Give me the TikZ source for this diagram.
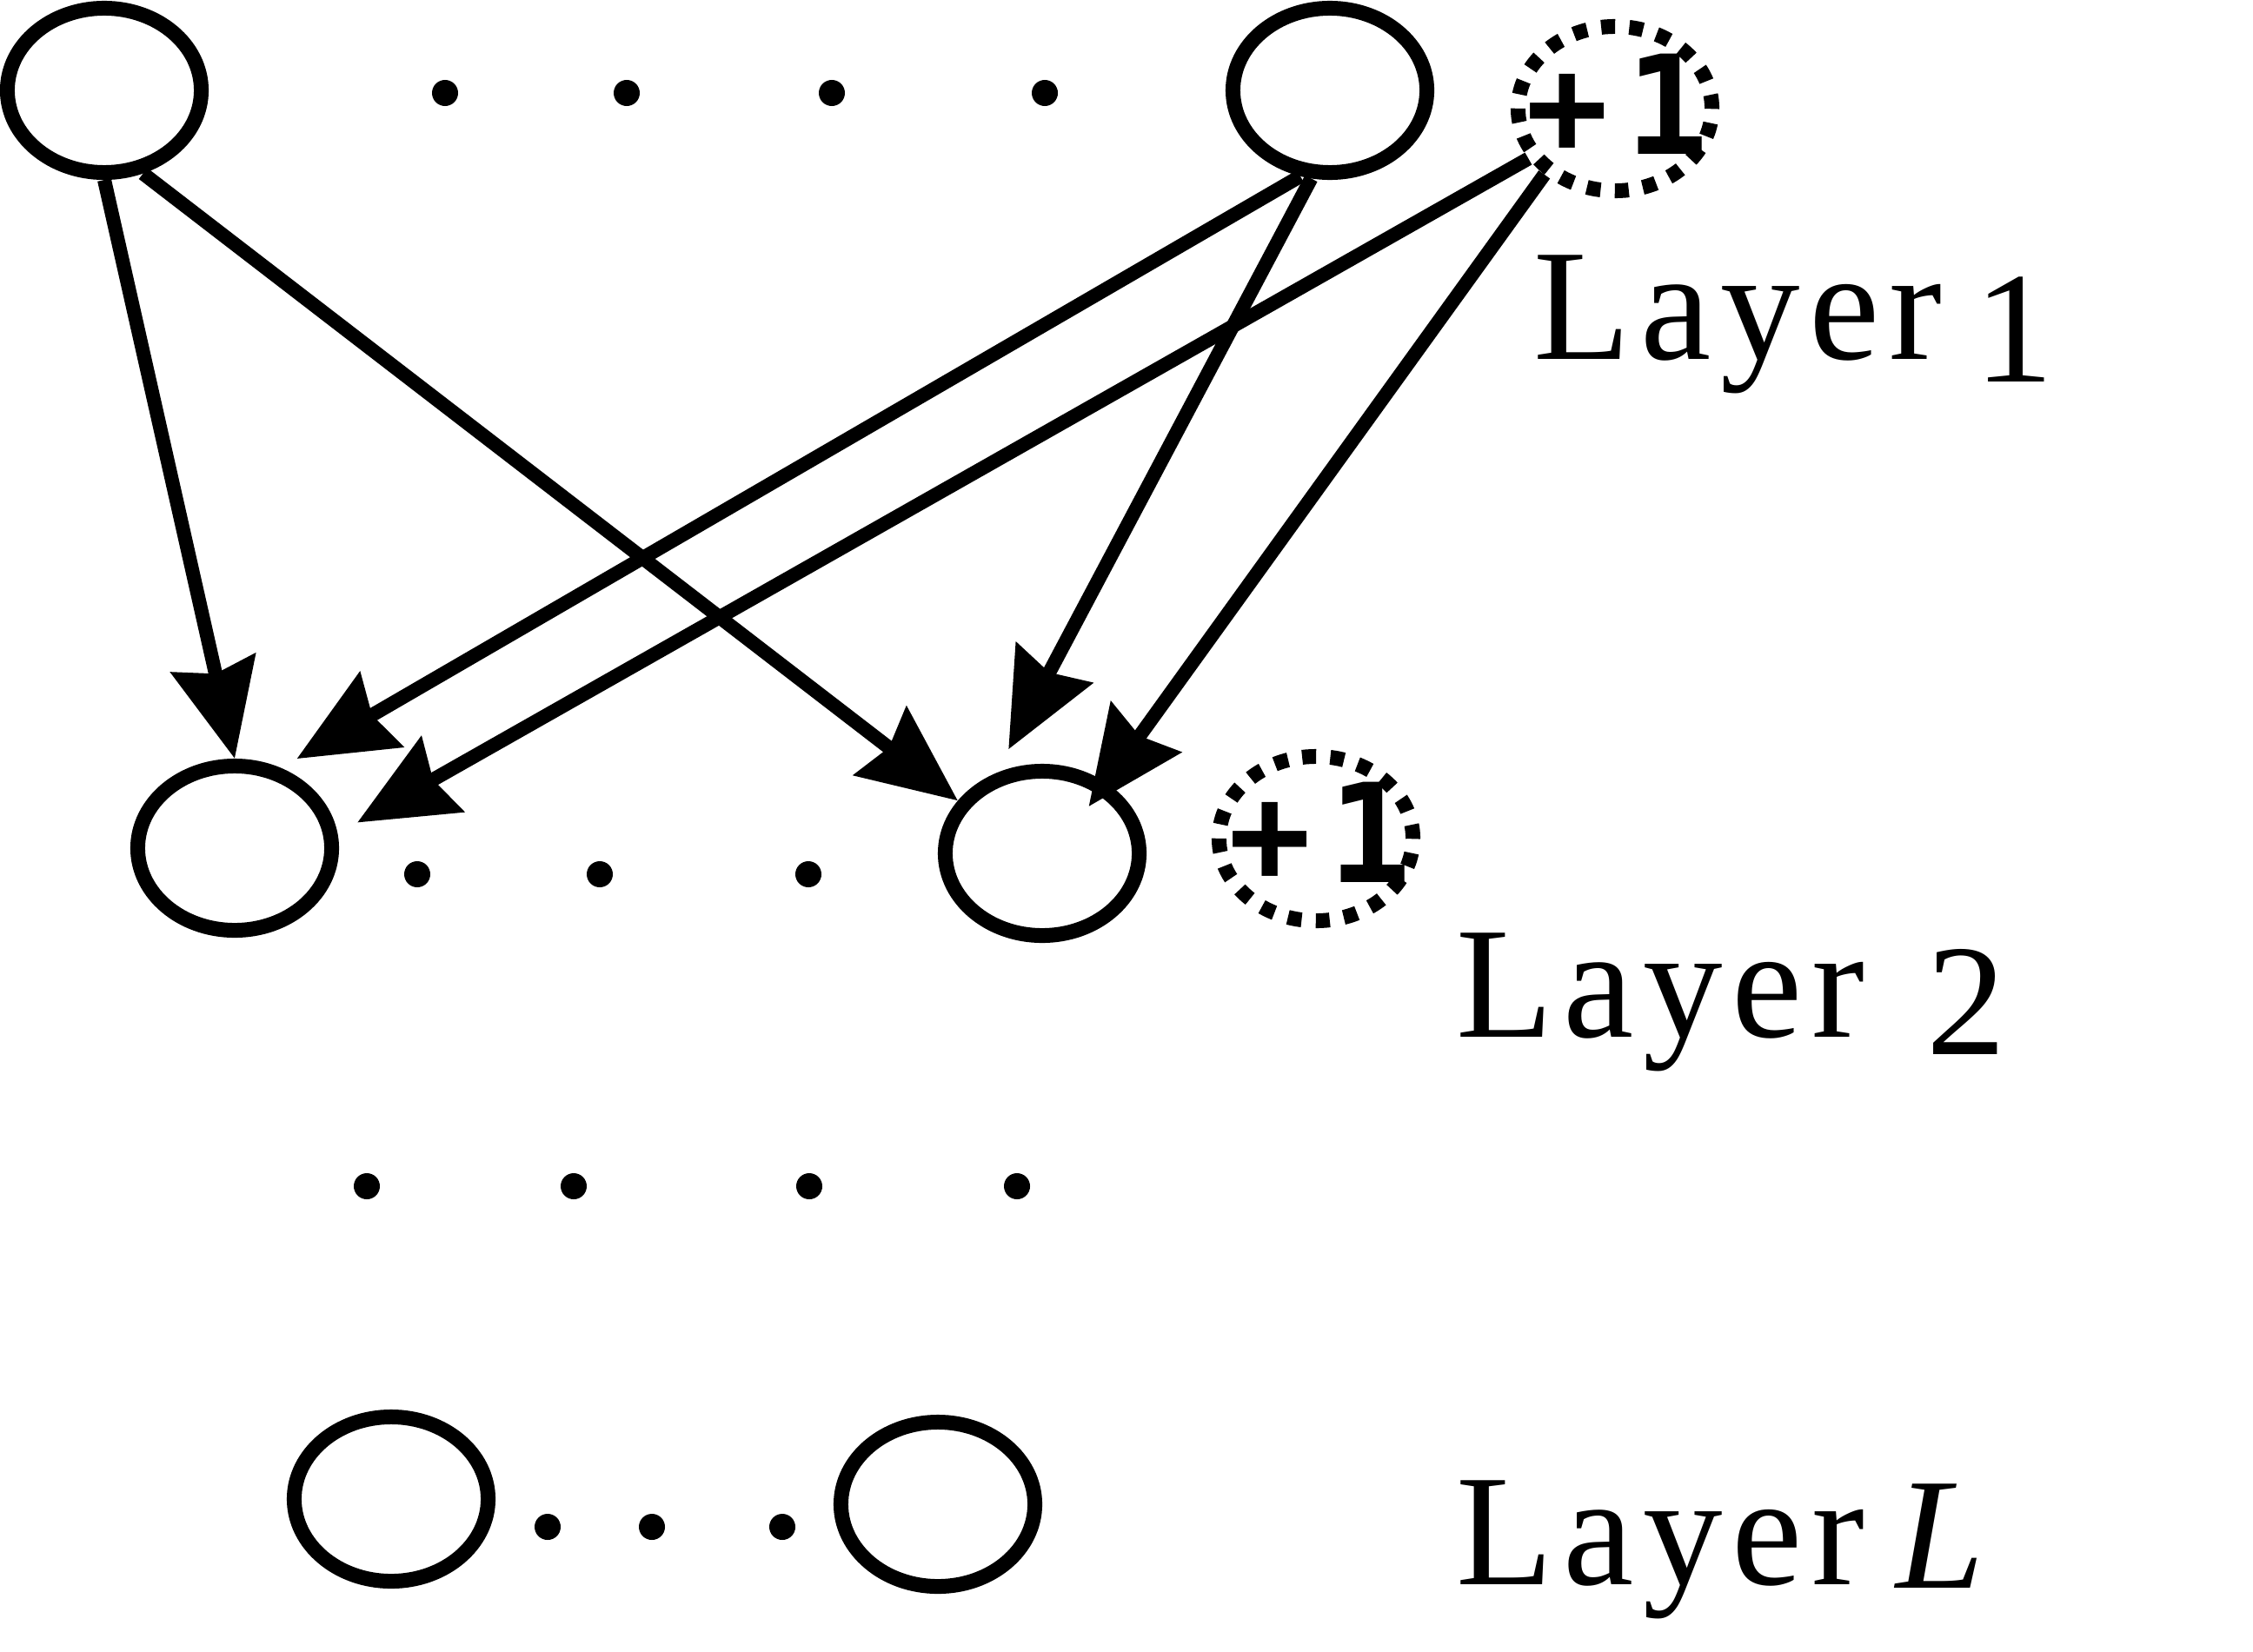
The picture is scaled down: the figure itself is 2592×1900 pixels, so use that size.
\documentclass[tikz,border=0pt]{standalone}
\usepackage{fontspec}
\setmainfont{Liberation Serif}
\newfontfamily\layerfont[LetterSpace=6]{Liberation Serif}
\newfontfamily\biasfont{DejaVu Sans Mono}
\usetikzlibrary{shapes.geometric,arrows.meta}
\newcommand{\plusone}{+\kern0.2cm 1}
\begin{document}
\begin{tikzpicture}[x=0.01cm,y=-0.01cm,
  unit/.style={ellipse, draw, line width=0.17cm, minimum width=2.23cm, minimum height=1.89cm, inner sep=0pt},
  bias/.style={unit, dash pattern=on 0.16cm off 0.164cm},
  biastext/.style={anchor=base, inner sep=0pt, font=\biasfont\bfseries\fontsize{45}{45}\selectfont},
  conn/.style={line width=0.16cm, -{Stealth[length=1.12cm,width=0.98cm,inset=0.12cm]}},
  lay/.style={anchor=base west, inner sep=0pt, font=\layerfont\fontsize{52}{52}\selectfont},
  laynum/.style={anchor=base west, inner sep=0pt, font=\fontsize{52}{52}\selectfont}]

\useasboundingbox (0,0) rectangle (2592,1900);

% layer 1
\node[unit] (A) at (120,104) {};
\node[unit] (B) at (1530,104) {};
\node[bias] (P1) at (1858,125) {};
\node[biastext] (T1) at (1861,178) {\plusone};
% layer 2
\node[unit] (C) at (270,976) {};
\node[unit] (D) at (1199,982) {};
\node[bias] (P2) at (1514,965) {};
\node[biastext] (T2) at (1519,1015) {\plusone};
% layer L
\node[unit] (E) at (450,1725) {};
\node[unit] (F) at (1079,1731) {};

% dots
\foreach \x in {512,721,957,1202} \fill (\x,107) circle[radius=0.15cm];
\foreach \x in {480,690,930} \fill (\x,1006) circle[radius=0.15cm];
\foreach \x in {422,660,931,1170} \fill (\x,1365) circle[radius=0.15cm];
\foreach \x in {630,750,900} \fill (\x,1757) circle[radius=0.15cm];

% connections
\draw[conn] (A.south) -- (C.north);
\draw[conn] (A.-65) -- (D.148);
\draw[conn, shorten >=0.21cm] (B.-109) -- (C.60);
\draw[conn, shorten >=0.31cm] (B.-102) -- (D.120);
\draw[conn, shorten >=0.26cm] (P1.210) -- (C.8);
\draw[conn, shorten >=-0.34cm] (P1.223) -- (D.48);

% labels
\node[lay] (L1) at (1764,413) {Layer};
\node[laynum] (N1) at (2271,439) {1};
\node[lay] (L2) at (1675,1193) {Layer};
\node[laynum] (N2) at (2216,1213) {2};
\node[lay] (L3) at (1675,1823) {Layer};
\node[laynum] (N3) at (2181,1827) {\itshape L};
\end{tikzpicture}
\end{document}
